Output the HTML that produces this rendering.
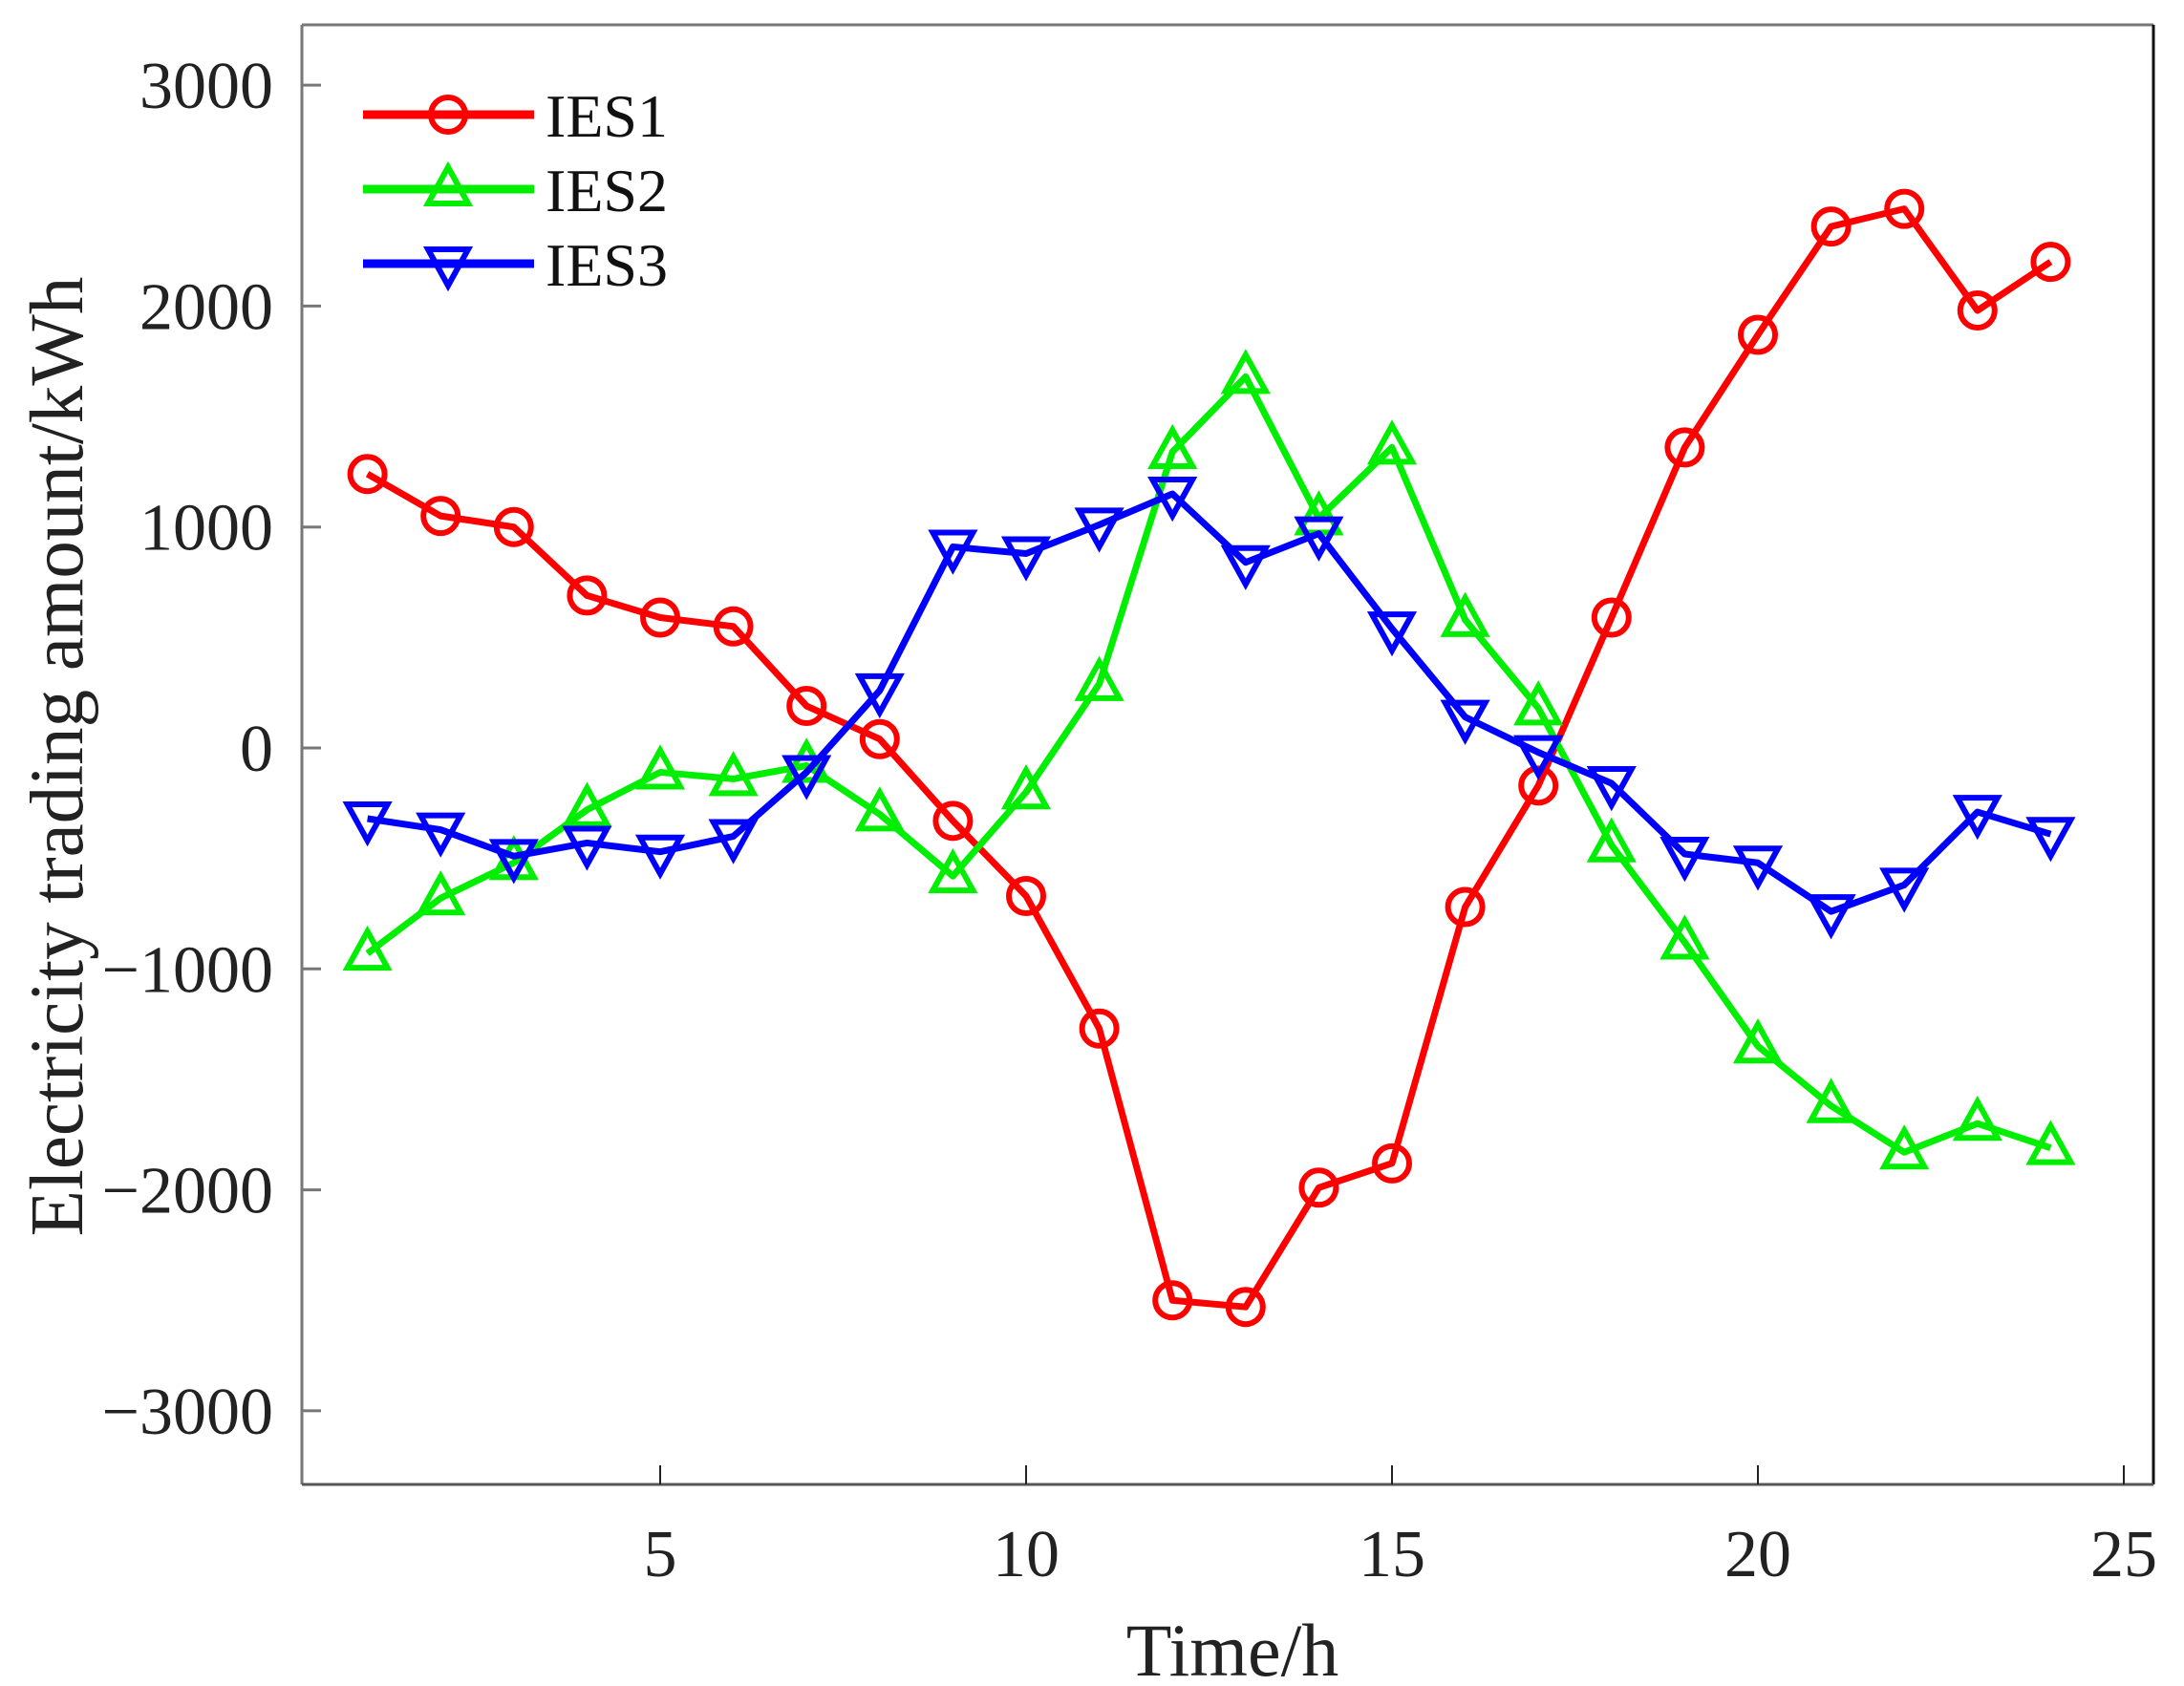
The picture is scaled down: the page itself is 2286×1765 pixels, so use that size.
<!DOCTYPE html>
<html><head><meta charset="utf-8"><style>
html,body{margin:0;padding:0;background:#fff;}
svg{display:block;font-family:"Liberation Serif",serif;}
</style></head><body>
<svg id="chart" width="2286" height="1765" viewBox="0 0 2286 1765" xmlns="http://www.w3.org/2000/svg">
<rect x="0" y="0" width="2286" height="1765" fill="#fff"/>
<g id="plot"></g>
<text x="1290" y="1754" font-size="78" text-anchor="middle" fill="#222">Time/h</text>
<text transform="translate(86,792) rotate(-90)" font-size="79" text-anchor="middle" fill="#222">Electricity trading amount/kWh</text>
</svg>
<script>
const hours=[1,2,3,4,5,6,7,8,9,10,11,12,13,14,15,16,17,18,19,20,21,22,23,24];
const ies1=[1240,1050,1000,690,590,550,190,40,-330,-670,-1270,-2500,-2530,-1990,-1880,-720,-170,590,1360,1870,2360,2440,1980,2200];
const ies2=[-930,-680,-520,-280,-110,-140,-80,-300,-580,-200,290,1340,1680,1040,1360,580,180,-440,-880,-1350,-1620,-1830,-1700,-1810];
const ies3=[-320,-370,-490,-430,-470,-400,-110,260,910,880,1010,1150,840,970,540,140,-20,-160,-480,-520,-740,-620,-290,-390];
const xTicks=[5,10,15,20,25];
const yTicks=[-3000,-2000,-1000,0,1000,2000,3000];
const yTickLabels=["\u22123000","\u22122000","\u22121000","0","1000","2000","3000"];
const seriesNames=["IES1","IES2","IES3"];

const L=316,R=2254,T=26,B=1554;
const X=v=>308+(v)*76.6;
const Y=v=>783-v*0.2313;
const NS="http://www.w3.org/2000/svg";
const g=document.getElementById('plot');
function mk(tag,attrs,parent){const e=document.createElementNS(NS,tag);for(const k in attrs)e.setAttribute(k,attrs[k]);(parent||g).appendChild(e);return e;}

let e;
e=mk('line',{x1:L,y1:T,x2:R,y2:T,stroke:'#777','stroke-width':3});


e=mk('line',{x1:L,y1:T,x2:L,y2:B,stroke:'#777','stroke-width':3});


e=mk('line',{x1:R,y1:T,x2:R,y2:B,stroke:'#111','stroke-width':3});


e=mk('line',{x1:L,y1:B,x2:R,y2:B,stroke:'#555','stroke-width':3});



xTicks.forEach(t=>{
  const x=X(t);
  let tk=mk('line',{x1:x,y1:B,x2:x,y2:B-20,stroke:'#222','stroke-width':2});
  
  
  let tl=mk('text',{x:x,y:1650,'font-size':70,'text-anchor':'middle',fill:'#222'});
  tl.textContent=t;
  
  
});
yTicks.forEach((t,i)=>{
  const y=Y(t);
  let tk=mk('line',{x1:L,y1:y,x2:L+20,y2:y,stroke:'#777','stroke-width':3});
  
  
  let tl=mk('text',{x:286,y:y+24,'font-size':70,'text-anchor':'end',fill:'#222'});
  tl.textContent=yTickLabels[i];
  
  
});

function marker(type,x,y,color,parent){
  let m;
  if(type==='circle'){m=mk('circle',{cx:x,cy:y,r:18,fill:'none',stroke:color,'stroke-width':6},parent);}
  else if(type==='up'){m=mk('polygon',{points:`${x},${y-23} ${x-21},${y+15} ${x+21},${y+15}`,fill:'none',stroke:color,'stroke-width':6},parent);}
  else {m=mk('polygon',{points:`${x},${y+23} ${x-21},${y-15} ${x+21},${y-15}`,fill:'none',stroke:color,'stroke-width':6},parent);}
  return m;
}
const colors=['#ff0000','#00ee00','#0000ff'];
const types=['circle','up','down'];
[ies1,ies2,ies3].forEach((s,si)=>{
  const grp=mk('g',{});
  
  
  const pts=s.map((v,i)=>X(hours[i])+','+Y(v)).join(' ');
  const pl=mk('polyline',{points:pts,fill:'none',stroke:colors[si],'stroke-width':7,'stroke-linejoin':'round'},grp);
  
  
  s.forEach((v,i)=>{
    const m=marker(types[si],X(hours[i]),Y(v),colors[si],grp);
    
    
  });
});

const lg=mk('g',{});


seriesNames.forEach((n,i)=>{
  const y=120+i*78;
  const en=mk('g',{},lg);
  
  
  mk('line',{x1:380,y1:y,x2:559,y2:y,stroke:colors[i],'stroke-width':9},en);
  marker(types[i],469,y,colors[i],en);
  const t=mk('text',{x:571,y:y+23,'font-size':64,fill:'#111'},en);
  t.textContent=n;
});
</script>
</body></html>
